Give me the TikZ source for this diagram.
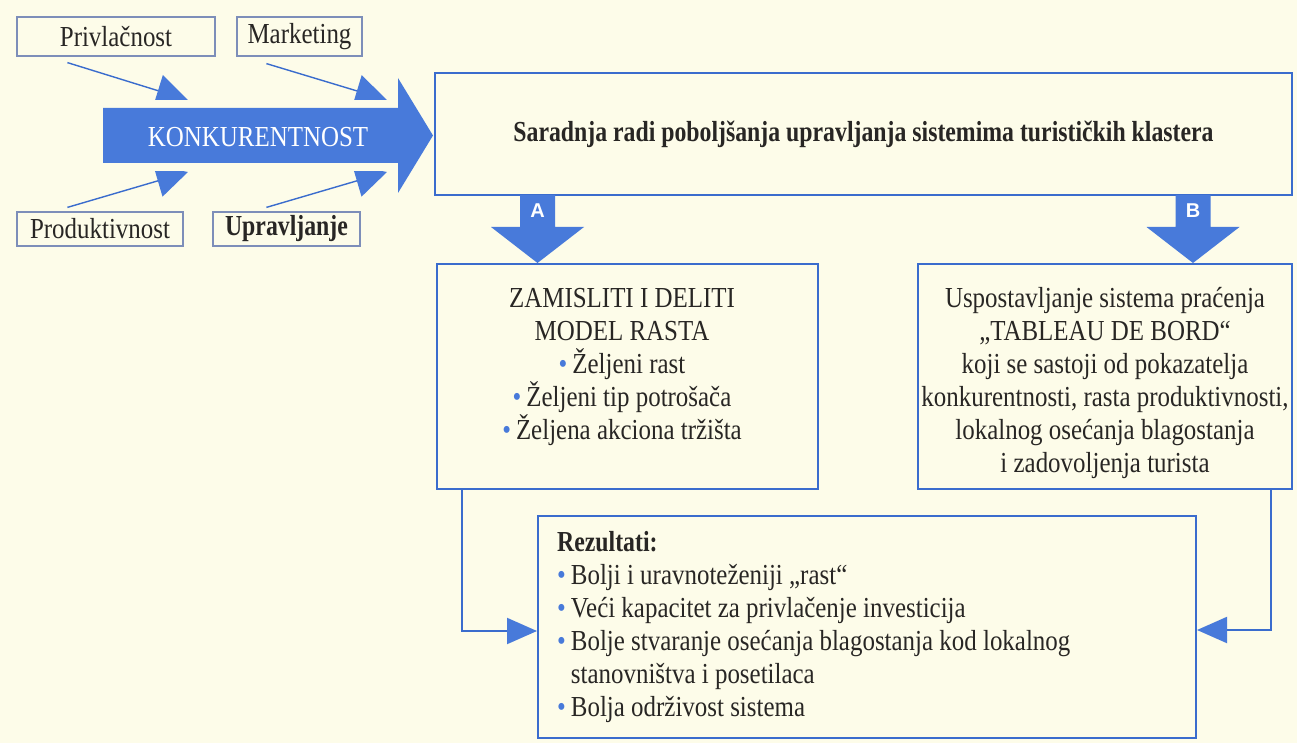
\documentclass[tikz,border=0pt]{standalone}
\usepackage{fontspec}
\usepackage{graphicx}
\setmainfont{Liberation Serif}[FakeStretch=0.86, BoldFeatures={FakeStretch=0.82}]
\setsansfont{Liberation Sans}
\usetikzlibrary{arrows.meta,calc}
\definecolor{paper}{RGB}{253,252,233}
\definecolor{fillblue}{RGB}{72,122,218}
\definecolor{lineblue}{RGB}{58,108,205}
\definecolor{framegray}{RGB}{125,142,185}
\definecolor{ink}{RGB}{40,38,36}
% small blue bullet used in the lists
\newcommand\bdot{\textcolor{fillblue}{•}\hspace{5pt}}
\newcommand\bdotgap{\phantom{\bdot}}
\begin{document}
\begin{tikzpicture}[x=1pt,y=-1pt,
  every node/.style={text=ink, font=\fontsize{29}{33}\selectfont, inner sep=0pt},
  smallbox/.style={draw=framegray, line width=1.2pt, fill=paper},
  bigbox/.style={draw=lineblue, line width=2pt},
  feeder/.style={draw=lineblue, line width=1.4pt,
    -{Triangle[length=31.4pt,width=32.6pt,color=fillblue]}},
  link/.style={draw=lineblue, line width=2pt,
    -{Triangle[length=30pt,width=26pt,color=fillblue]}},
  letter/.style={text=white, font=\sffamily\bfseries\fontsize{20}{20}\selectfont}]
\useasboundingbox (0,0) rectangle (1297,743);
\fill[paper] (0,0) rectangle (1297,743);

% factor boxes
\node[smallbox, minimum width=198pt, minimum height=39pt] (priv) at (116,36.5) {Privlačnost};
\node[smallbox, minimum width=125pt, minimum height=39pt] (mark) at (299.5,36.5) {Marketing};
\node[smallbox, minimum width=166pt, minimum height=34pt] (prod) at (100,229) {Produktivnost};
\node[smallbox, minimum width=147pt, minimum height=34pt, font=\bfseries\fontsize{29}{33}\selectfont] (uprv) at (286.5,229) {Upravljanje};

% feeder lines start just under the boxes
\coordinate (p0) at ($(priv.south west)+(51,6)$);
\coordinate (m0) at ($(mark.south west)+(30,7)$);
\coordinate (d0) at ($(prod.north west)+(51,-4)$);
\coordinate (u0) at ($(uprv.north west)+(54,-4)$);
\coordinate (p1) at (188,100);
\coordinate (m1) at (387,100);
\coordinate (d1) at (188,172);
\coordinate (u1) at (387,172);
\begin{scope}
  \clip (0,0) rectangle (433,100);
  \draw[feeder] (p0) -- (p1);
  \draw[feeder] (m0) -- (m1);
\end{scope}
\begin{scope}
  \clip (0,172) rectangle (433,743);
  \draw[feeder] (d0) -- (d1);
  \draw[feeder] (u0) -- (u1);
\end{scope}

% main boxes
\node[bigbox, minimum width=857pt, minimum height=122pt, font=\bfseries\fontsize{29}{33}\selectfont] (top) at (863.5,134)
  {Saradnja radi poboljšanja upravljanja sistemima turističkih klastera};
\node[bigbox, minimum width=381pt, minimum height=225pt] (boxA) at (627.5,376.5) {};
\node[bigbox, minimum width=374pt, minimum height=225pt] (boxB) at (1105,376.5) {};
\node[bigbox, minimum width=658pt, minimum height=222pt] (rez) at (867,627) {};

% big arrow
\fill[fillblue] (103,108) -- (398,108) -- (398,78) -- (433,135.5) -- (398,193)
  -- (398,163) -- (103,163) -- cycle;
\node[text=white] (konk) at (258,137) {KONKURENTNOST};

% arrows A and B
\fill[fillblue] (520,195) -- (555,195) -- (555,227) -- (584,227) -- (537.5,263)
  -- (491,227) -- (520,227) -- cycle;
\node[letter] (la) at (537.5,211) {A};
\fill[fillblue] (1175.5,195) -- (1210.5,195) -- (1210.5,227) -- (1239.5,227) -- (1193,263)
  -- (1146.5,227) -- (1175.5,227) -- cycle;
\node[letter] (lb) at (1193,211) {B};

% box texts
\node[align=center] (txtA) at (622,367)
  {ZAMISLITI I DELITI\\MODEL RASTA\\\bdot Željeni rast\\\bdot Željeni tip potrošača\\\bdot Željena akciona tržišta};
\node[align=center] (txtB) at (1105,383)
  {Uspostavljanje sistema praćenja\\„TABLEAU DE BORD“\\koji se sastoji od pokazatelja\\konkurentnosti, rasta produktivnosti,\\lokalnog osećanja blagostanja\\i zadovoljenja turista};
\node[align=left, anchor=west] (txtR) at (557,627)
  {\textbf{Rezultati:}\\\bdot Bolji i uravnoteženiji „rast“\\\bdot Veći kapacitet za privlačenje investicija\\\bdot Bolje stvaranje osećanja blagostanja kod lokalnog\\\bdotgap stanovništva i posetilaca\\\bdot Bolja održivost sistema};

% links to the results box
\draw[link] ([xshift=26pt]boxA.south west) |- ($(rez.west)+(0,4)$);
\draw[link] ([xshift=-22pt]boxB.south east) |- ($(rez.east)+(0,3)$);
\end{tikzpicture}
\end{document}
